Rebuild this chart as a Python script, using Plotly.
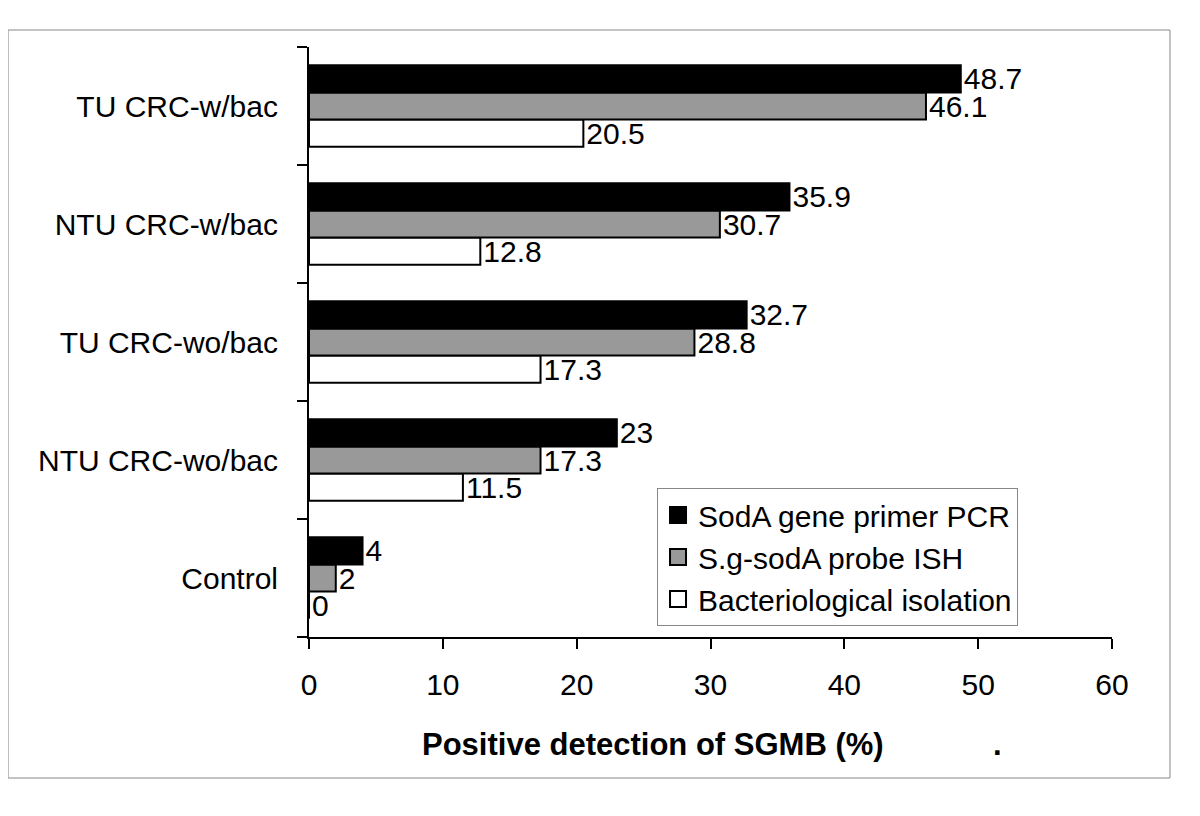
import plotly.graph_objects as go

categories = ["Control", "NTU CRC-wo/bac", "TU CRC-wo/bac", "NTU CRC-w/bac", "TU CRC-w/bac"]
pcr = [4, 23, 32.7, 35.9, 48.7]
ish = [2, 17.3, 28.8, 30.7, 46.1]
isolation = [0, 11.5, 17.3, 12.8, 20.5]
series_names = ["SodA gene primer PCR", "S.g-sodA probe ISH", "Bacteriological isolation"]
series_colors = ["#000000", "#999999", "#ffffff"]
x_ticks = [0, 10, 20, 30, 40, 50, 60]

FONT = "Liberation Sans, Arial, Helvetica, sans-serif"
FS = 30

fig = go.Figure()
# Plotly places the first trace at the bottom of each group -> add in reverse
for name, vals, col in zip(reversed(series_names), [isolation, ish, pcr], reversed(series_colors)):
    fig.add_trace(go.Bar(
        y=categories, x=vals, orientation="h", name=name,
        marker=dict(color=col, line=dict(color="black", width=2)),
        text=[f"{v:g}" for v in vals], textposition="outside",
        textfont=dict(family=FONT, size=FS, color="black"),
        constraintext="none", cliponaxis=False, showlegend=False,
    ))
# legend proxies
for name, col in zip(series_names, series_colors):
    fig.add_trace(go.Scatter(
        x=[None], y=[None], mode="markers", name=name,
        marker=dict(symbol="square", size=16, color=col, line=dict(color="black", width=2)),
    ))

fig.update_layout(
    width=1184, height=800,
    margin=dict(l=301, r=80, t=39, b=171),
    paper_bgcolor="white", plot_bgcolor="white",
    barmode="group", bargap=0.31, bargroupgap=0,
    font=dict(family=FONT, size=FS, color="black"),
    legend=dict(x=0.4334, y=0.2525, xanchor="left", yanchor="top",
                bordercolor="#888888", borderwidth=1, bgcolor="white",
                font=dict(family=FONT, size=FS), itemsizing="trace",
                tracegroupgap=0),
    xaxis=dict(range=[0, 60], tickvals=x_ticks, ticks="outside", ticklen=10, tickwidth=2,
               tickcolor="black", showline=True, linecolor="black", linewidth=2,
               showgrid=False, zeroline=False, ticklabelstandoff=10,
               tickfont=dict(family=FONT, size=FS)),
    yaxis=dict(type="category", categoryorder="array", categoryarray=categories,
               ticks="outside", tickson="boundaries", ticklen=10, tickwidth=2,
               tickcolor="black", showline=True, linecolor="black", linewidth=2,
               showgrid=False, ticklabelstandoff=23,
               tickfont=dict(family=FONT, size=FS)),
    showlegend=True,
)

fig.add_annotation(text="<b>Positive detection of SGMB (%)</b>", xref="paper", yref="paper",
                   x=0.4284, y=-0.183, showarrow=False, xanchor="center", yanchor="middle",
                   font=dict(family=FONT, size=31, color="black"))
fig.add_annotation(text="<b>.</b>", xref="paper", yref="paper",
                   x=0.857, y=-0.183, showarrow=False, xanchor="center", yanchor="middle",
                   font=dict(family=FONT, size=31, color="black"))

fig.add_shape(type="rect", xref="paper", yref="paper",
              x0=-0.3748, x1=1.0722, y0=-0.239, y1=1.0288,
              line=dict(color="#888888", width=1), fillcolor="rgba(0,0,0,0)", layer="below")

fig.write_html("out.html")
